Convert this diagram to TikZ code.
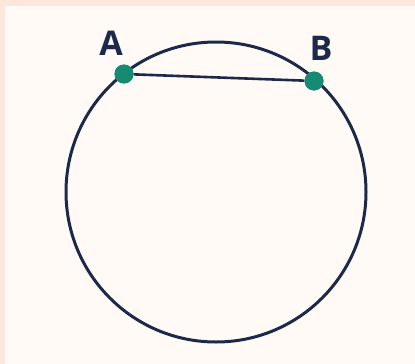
\documentclass[tikz,border=0pt]{standalone}
\usepackage{xcolor}
\definecolor{PeachEdge}{HTML}{FDE6DB}
\definecolor{CreamBack}{HTML}{FFFAF5}
\definecolor{NavyInk}{HTML}{1B2A4A}
\definecolor{TealDot}{HTML}{178A72}
\usepackage{fontspec}
\setmainfont{Open Sans}
\usepackage{tikz}
\usetikzlibrary{positioning,calc}

\tikzset{
  chordpoint/.style={circle, fill=TealDot, inner sep=0pt, minimum size=19pt},
  pointlabel/.style={text=NavyInk, font=\fontsize{34}{34}\selectfont\bfseries, inner sep=0pt}
}

\begin{document}
\begin{tikzpicture}[x=1pt, y=-1pt]
  \fill[PeachEdge] (0,0) rectangle (415,364);
  \fill[CreamBack] (5,6) rectangle (415,364);
  \useasboundingbox (0,0) rectangle (415,364);
  % circle and its chord
  \coordinate (O) at (216,192);
  \draw[NavyInk, line width=3pt] (O) circle (150);
  \node[chordpoint] (A) at (124,74) {};
  \node[chordpoint] (B) at (314,81) {};
  \draw[NavyInk, line width=2.6pt] (A) -- (B);
  \node[chordpoint] at (A) {};
  \node[chordpoint] at (B) {};
  \node[pointlabel] (labelA) at (111,43) {A};
  \node[pointlabel] (labelB) at (321,48) {B};
\end{tikzpicture}
\end{document}
